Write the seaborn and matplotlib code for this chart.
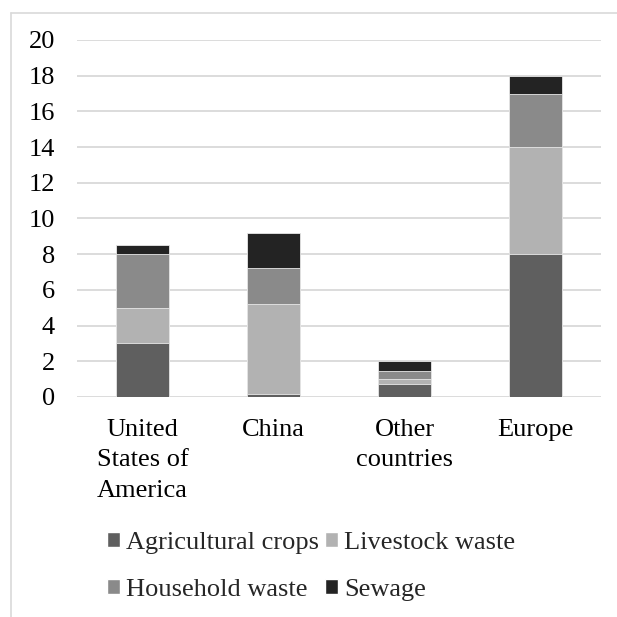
import numpy as np
import pandas as pd
import seaborn as sns
import matplotlib.pyplot as plt
from matplotlib.patches import Patch

# data
regions = ["United\nStates of\nAmerica", "China", "Other\ncountries", "Europe"]
agricultural_crops = [3.0, 0.15, 0.75, 8.0]
livestock_waste = [2.0, 5.05, 0.25, 6.0]
household_waste = [3.0, 2.0, 0.45, 3.0]
sewage = [0.5, 2.0, 0.55, 1.0]

series = ["Agricultural crops", "Livestock waste", "Household waste", "Sewage"]
colors = ["#5f5f5f", "#b2b2b2", "#8a8a8a", "#232323"]

df = pd.DataFrame({
    "region": regions,
    "Agricultural crops": agricultural_crops,
    "Livestock waste": livestock_waste,
    "Household waste": household_waste,
    "Sewage": sewage,
})
# cumulative tops for the stacked look
cum = df[series].cumsum(axis=1)

sns.set_style("white")
plt.rcParams["font.family"] = ["Liberation Serif", "DejaVu Serif"]
fs = 19

fig = plt.figure(figsize=(6.17, 6.17), dpi=100)
ax = fig.add_axes([0.1248, 0.3566, 0.8492, 0.5786])

# draw tallest first so lower segments sit on top
for name, col in reversed(list(zip(series, colors))):
    sns.barplot(x=df["region"], y=cum[name], color=col, width=0.4,
                edgecolor="#e8e8e8", linewidth=0.6, ax=ax, zorder=3)

ax.set_ylim(0, 20)
ax.set_yticks(np.arange(0, 21, 2))
ax.set_xlim(-0.5, 3.5)
ax.set_xlabel("")
ax.set_ylabel("")
ax.yaxis.grid(True, color="#d9d9d9", linewidth=1.3, zorder=0)
ax.set_axisbelow(True)
for s in ax.spines.values():
    s.set_visible(False)
ax.tick_params(axis="both", length=0, labelsize=fs, colors="black")
ax.tick_params(axis="y", pad=16)
ax.tick_params(axis="x", pad=16)
for lbl in ax.get_xticklabels():
    lbl.set_linespacing(1.48)
    lbl.set_verticalalignment("top")

# legend in two rows, row-major ordering
order = [0, 2, 1, 3]
handles = [Patch(facecolor=colors[i], label=series[i]) for i in order]
fig.legend(handles=handles, loc="upper left", bbox_to_anchor=(0.156, 0.155),
           ncol=2, frameon=False, fontsize=fs, handlelength=0.5,
           handleheight=0.5, handletextpad=0.23, columnspacing=0.23,
           labelspacing=0.95, borderaxespad=0)

# light chart-area frame (top and left edges)
fig.add_artist(plt.Line2D([11 / 617, 1.0], [1 - 13 / 617, 1 - 13 / 617],
                          color="#d9d9d9", linewidth=1.2, transform=fig.transFigure))
fig.add_artist(plt.Line2D([11 / 617, 11 / 617], [0.0, 1 - 13 / 617],
                          color="#d9d9d9", linewidth=1.2, transform=fig.transFigure))

fig.savefig("out.png", dpi=100)
